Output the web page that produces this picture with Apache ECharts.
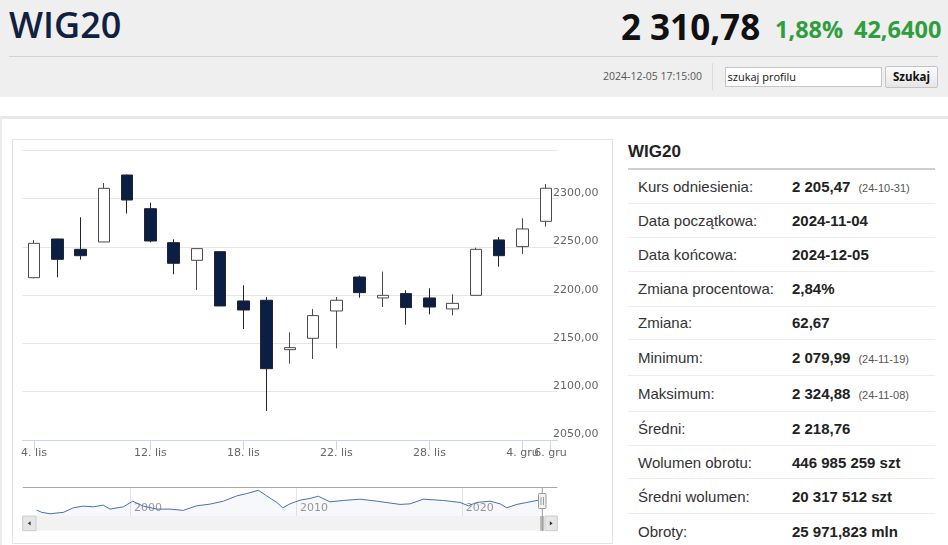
<!DOCTYPE html>
<html><head><meta charset="utf-8">
<script src="https://cdn.jsdelivr.net/npm/echarts@6/dist/echarts.min.js"></script>
<style>
html,body{margin:0;padding:0;width:948px;height:545px;overflow:hidden;background:#fff;font-family:"Liberation Sans",Arial,sans-serif;}
.abs{position:absolute;white-space:nowrap;}
.os{font-family:"Open Sans","Noto Sans",sans-serif;}
#hdr{position:absolute;left:0;top:0;width:948px;height:97px;background:#efefef;}
.row{position:absolute;left:628px;width:307px;border-bottom:1px solid #ececec;box-sizing:border-box;display:flex;align-items:center;}
.row .lab{position:absolute;left:10px;font-size:15px;color:#333;}
.row .val{position:absolute;left:164px;font-size:15px;font-weight:bold;color:#222;}
.row .val small{font-size:11px;font-weight:normal;color:#555;margin-left:8px;}
#chart{position:absolute;left:0;top:0;width:948px;height:545px;z-index:5;}
</style></head>
<body>
<div id="hdr">
  <div class="abs os" style="left:9px;top:7px;font-size:36px;line-height:36px;font-weight:600;color:#0f2040;">WIG20</div>
  <div class="abs os" style="left:621px;top:9px;font-size:35px;line-height:35px;font-weight:bold;color:#111;">2 310,78</div>
  <div class="abs os" style="left:775px;top:18.4px;font-size:23.5px;line-height:23.5px;font-weight:bold;color:#2e9e3e;">1,88%</div>
  <div class="abs os" style="left:854px;top:18.4px;font-size:23.5px;line-height:23.5px;font-weight:bold;color:#2e9e3e;">42,6400</div>
  <div class="abs" style="left:9px;top:56px;width:929px;height:1px;background:#d3d3d3;"></div>
  <div class="abs os" style="left:603px;top:71px;font-size:10.5px;line-height:10.5px;color:#555;">2024-12-05 17:15:00</div>
  <div class="abs" style="left:712px;top:63px;width:1px;height:27px;background:#dcdcdc;"></div>
  <div class="abs os" style="left:725px;top:66.5px;width:157px;height:20.5px;box-sizing:border-box;border:1px solid #c6c6c6;background:#fff;font-size:11px;line-height:18px;padding-left:1.5px;color:#111;">szukaj profilu</div>
  <div class="abs os" style="left:885px;top:66px;width:53px;height:21.5px;box-sizing:border-box;border:1px solid #c4c4c4;border-radius:2px;background:linear-gradient(#fbfbfb,#e6e6e6);font-size:11.5px;line-height:19.5px;text-align:center;font-weight:bold;color:#111;">Szukaj</div>
</div>
<div class="abs" style="left:0;top:116px;width:948px;height:3px;background:#e8e8e8;"></div>
<div class="abs" style="left:0;top:116px;width:2px;height:429px;background:#ececec;"></div>
<div class="abs" style="left:12px;top:139px;width:601px;height:405px;box-sizing:border-box;border:1px solid #e4e4e4;"></div>

<div class="abs" style="left:628px;top:142.5px;font-size:17px;line-height:17px;font-weight:bold;color:#222;">WIG20</div>
<div class="abs" style="left:628px;top:168px;width:307px;height:2px;background:#cfcfcf;"></div>
<div id="tbl"></div>
<div id="chart"></div>
<script>
// ---- table content ----
const rowLabels = ["Kurs odniesienia:","Data początkowa:","Data końcowa:","Zmiana procentowa:","Zmiana:","Minimum:","Maksimum:","Średni:","Wolumen obrotu:","Średni wolumen:","Obroty:"];
const rowValues = ["2 205,47","2024-11-04","2024-12-05","2,84%","62,67","2 079,99","2 324,88","2 218,76","446 985 259 szt","20 317 512 szt","25 971,823 mln"];
const rowNotes  = ["(24-10-31)","","","","","(24-11-19)","(24-11-08)","","","",""];

// ---- candlestick data (WIG20 daily) ----
const dates = ["2024-11-04","2024-11-05","2024-11-06","2024-11-07","2024-11-08","2024-11-12","2024-11-13","2024-11-14","2024-11-15","2024-11-18","2024-11-19","2024-11-20","2024-11-21","2024-11-22","2024-11-25","2024-11-26","2024-11-27","2024-11-28","2024-11-29","2024-12-02","2024-12-03","2024-12-04","2024-12-05"];
const openV  = [2218.1,2258.2,2247.5,2255.1,2324.5,2289.6,2254.4,2236.1,2245.1,2194.0,2194.7,2143.5,2155.3,2183.6,2218.8,2197.1,2201.6,2197.1,2185.7,2199.8,2257.2,2250.3,2276.5];
const closeV = [2253.7,2237.1,2240.9,2310.7,2298.6,2256.1,2233.0,2248.2,2188.8,2184.6,2123.8,2145.6,2178.8,2194.7,2202.6,2199.8,2187.1,2187.7,2191.5,2247.5,2240.9,2268.6,2310.78];
const lowV   = [2217.5,2218.5,2236.8,2255.1,2284.5,2254.8,2221.6,2205.4,2188.8,2164.9,2079.99,2129.0,2133.9,2144.9,2197.4,2187.7,2169.4,2180.1,2179.1,2199.8,2229.5,2242.7,2271.0];
const highV  = [2257.2,2258.5,2280.7,2316.2,2324.88,2295.9,2257.9,2248.5,2245.5,2210.2,2198.1,2161.5,2185.7,2198.1,2220.2,2224.4,2205.0,2207.1,2200.9,2249.2,2260.3,2279.6,2315.2];

// ---- x-axis tick labels (category index where each sits) ----
const tickLabels = ["4. lis","12. lis","18. lis","22. lis","28. lis","4. gru"];
const tickAt     = [0,5,9,13,17,21];
const endLabel   = "6. gru";
const endAt      = 22.2;

// ---- navigator (long history) ----
const navYearLabels = [2000,2010,2020];
const navT = [1994.37,1994.68,1995.18,1995.98,1996.58,1997.18,1997.79,1998.39,1998.79,1999.6,2000.16,2000.8,2001.61,2002.41,2003.21,2004.02,2004.82,2005.63,2006.43,2007.04,2007.74,2008.24,2008.85,2009.21,2009.65,2010.25,2010.85,2011.35,2012.06,2012.86,2013.87,2014.88,2016.28,2016.88,2017.68,2018.89,2019.9,2020.4,2020.9,2021.71,2022.31,2022.71,2023.32,2023.92,2024.72];
const navV = [960,622,416,622,1298,1548,1445,1695,1107,1445,2283,1548,1107,1107,916,1592,1842,2283,3062,3415,3900,3062,2092,1298,1886,2430,2680,3018,2180,2386,2577,2283,1798,1886,2577,2386,2092,1592,2092,2283,1886,1298,1798,2092,2474];

// build table
const tbl = document.getElementById('tbl');
const bounds = [170,204.3,238.3,272.3,306.7,340,376,412.3,446,479.3,514.3,548];
rowLabels.forEach((l,i)=>{
  const d=document.createElement('div');
  d.className='row';
  d.style.top=bounds[i]+'px';
  d.style.height=(bounds[i+1]-bounds[i])+'px';
  if(i===rowLabels.length-1) d.style.borderBottom='none';
  d.innerHTML='<span class="lab">'+l+'</span><span class="val">'+rowValues[i]+(rowNotes[i]?'<small>'+rowNotes[i]+'</small>':'')+'</span>';
  tbl.appendChild(d);
});

const chart = echarts.init(document.getElementById('chart'));
const fmt = v => v.toFixed(2).replace('.', ',');
const tickPos = tickAt.map(v => v + 0.5);
const labelFor = v => { const k = tickPos.findIndex(p => Math.abs(p - v) < 1e-6); return k >= 0 ? tickLabels[k] : ''; };
const labelStyle = {color:'#666', fontSize:11, margin:8, fontFamily:'DejaVu Sans'};

const option = {
  animation:false,
  backgroundColor:'transparent',
  textStyle:{fontFamily:'DejaVu Sans'},
  grid:[
    {left:22.4, top:150.4, width:535, height:289.5},
    {left:22.7, top:487.3, width:534.6, height:28.7}
  ],
  xAxis:[
    {type:'category', gridIndex:0, data:dates, boundaryGap:true, position:'bottom',
     axisLine:{show:false}, axisTick:{show:false}, axisLabel:{show:false}, splitLine:{show:false}},
    {type:'value', gridIndex:0, min:0, max:dates.length, position:'bottom',
     axisLine:{show:true, lineStyle:{color:'#ccd6eb', width:1}},
     axisTick:{show:true, customValues:tickPos, length:10, lineStyle:{color:'#ccd6eb'}},
     axisLabel:Object.assign({customValues:tickPos, formatter:labelFor}, labelStyle),
     splitLine:{show:false}},
    {type:'value', gridIndex:1, min:1993.53, max:2025.76,
     axisLine:{show:false},
     axisTick:{show:true, inside:true, customValues:navYearLabels, length:28.7, lineStyle:{color:'#e6e6e6'}},
     axisLabel:{inside:true, customValues:navYearLabels, formatter:v => String(v), color:'#999', fontSize:11, align:'left', padding:[0,0,0,4], margin:2, fontFamily:'DejaVu Sans'},
     splitLine:{show:false}},
    {type:'value', gridIndex:0, min:0, max:dates.length, position:'bottom',
     axisLine:{show:false},
     axisTick:{show:true, customValues:[endAt + 0.5], length:10, lineStyle:{color:'#ccd6eb'}},
     axisLabel:Object.assign({customValues:[endAt + 0.5], formatter:() => endLabel}, labelStyle),
     splitLine:{show:false}}
  ],
  yAxis:[
    {type:'value', gridIndex:0, min:2050, max:2350, interval:50, position:'right',
     axisLine:{show:false}, axisTick:{show:false},
     splitLine:{show:true, lineStyle:{color:'#e6e6e6', width:1}},
     axisLabel:{formatter:fmt, color:'#666', fontSize:11, margin:-4.4, align:'left', verticalAlign:'bottom', showMaxLabel:false, fontFamily:'DejaVu Sans'}},
    {type:'value', gridIndex:1, min:80, max:4340, show:false, splitLine:{show:false}}
  ],
  series:[
    {type:'candlestick', xAxisIndex:0, yAxisIndex:0, barWidth:12,
     data: dates.map((d,i)=>[openV[i], closeV[i], lowV[i], highV[i]]),
     itemStyle:{color:'#ffffff', color0:'#0b1f45', borderColor:'#4a4a4a', borderColor0:'#202433', borderWidth:1}},
    {type:'line', xAxisIndex:2, yAxisIndex:1, showSymbol:false, silent:true,
     data: navT.map((t,i)=>[t, navV[i]]),
     lineStyle:{color:'#4a6fb5', width:1}, areaStyle:{color:'rgba(51,92,173,0.06)'}}
  ],
  graphic:[
    {type:'line', shape:{x1:22.7,y1:487.5,x2:557.3,y2:487.5}, style:{stroke:'#a8a8a8', lineWidth:1}, z:10},
    {type:'rect', shape:{x:22.7,y:516,width:534.6,height:14.7}, style:{fill:'#f2f2f2'}, z:10},
    {type:'rect', shape:{x:22.7,y:516,width:13.3,height:14.7}, style:{fill:'#e6e6e6', stroke:'#cccccc', lineWidth:1}, z:11},
    {type:'polygon', shape:{points:[[27.8,523.3],[30.6,521.2],[30.6,525.4]]}, style:{fill:'#333'}, z:12},
    {type:'rect', shape:{x:545,y:516,width:12.3,height:14.7}, style:{fill:'#e6e6e6', stroke:'#cccccc', lineWidth:1}, z:11},
    {type:'polygon', shape:{points:[[552.6,523.3],[549.8,521.2],[549.8,525.4]]}, style:{fill:'#333'}, z:12},
    {type:'rect', shape:{x:540,y:516,width:4,height:14.7}, style:{fill:'#bdbdbd'}, z:11},
    {type:'line', shape:{x1:542.3,y1:487.3,x2:542.3,y2:531}, style:{stroke:'#9a9a9a', lineWidth:1}, z:12},
    {type:'rect', shape:{x:538.5,y:493.5,width:7.5,height:15, r:1}, style:{fill:'#f2f2f2', stroke:'#999', lineWidth:1}, z:13},
    {type:'line', shape:{x1:541,y1:497,x2:541,y2:505}, style:{stroke:'#999', lineWidth:1}, z:14},
    {type:'line', shape:{x1:543.5,y1:497,x2:543.5,y2:505}, style:{stroke:'#999', lineWidth:1}, z:14}
  ]
};
chart.setOption(option);
</script>
</body></html>
